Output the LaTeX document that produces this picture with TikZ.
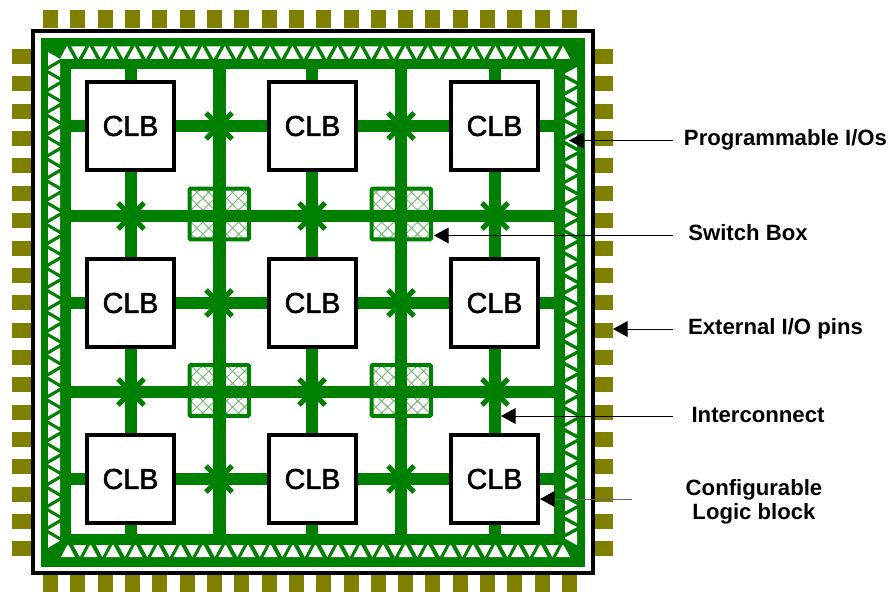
\documentclass[tikz,border=0pt]{standalone}
\usepackage{fontspec}
\setmainfont{Liberation Sans}
\newfontface\clbface{Liberation Sans}[FakeBold=1.8]
\usepackage{xcolor}
\definecolor{colWire}{HTML}{008000}
\definecolor{colPin}{HTML}{808000}
\usepackage{tikz}
\usetikzlibrary{arrows.meta, patterns.meta}
\tikzset{
    pin/.style={fill=colPin},
    wire/.style={draw=colWire, line width=10.6pt},
    ringwire/.style={draw=colWire, line width=9pt},
    cutout/.style={fill=white},
    xcross/.style={draw=colWire, line width=4.5pt},
    clb/.style={draw=black, fill=white, line width=3.2pt, minimum size=74.5pt, inner sep=0pt, font=\clbface\fontsize{24.5}{28}\selectfont},
    switchbox/.style={draw=colWire, line width=3.4pt, rounded corners=1pt, minimum width=50.8pt, minimum height=43.5pt, inner sep=0pt,
        pattern={Hatch[angle=45, distance=7.2pt, line width=0.8pt]}, pattern color=colWire!55!white},
    lbl/.style={font=\bfseries\fontsize{18.9}{20.5}\selectfont, align=center, inner sep=0pt},
    pointer/.style={draw=black, line width=0.85pt, -{Triangle[length=12.5pt, width=13.5pt, black]}}
}
\begin{document}
\begin{tikzpicture}[x=0.03cm, y=-0.03cm]
        \useasboundingbox (0,0) rectangle (889,592);
        % External pins
        \foreach \k in {0,...,19} {
            \fill[pin] (43+27.32*\k,10) rectangle (58+27.32*\k,28);
            \fill[pin] (43+27.32*\k,575) rectangle (58+27.32*\k,592);
        }
        \foreach \k in {0,...,18} {
            \fill[pin] (12,49+27.36*\k) rectangle (31,64+27.36*\k);
            \fill[pin] (595,49+27.36*\k) rectangle (613,64+27.36*\k);
        }
        % Chip frame
        \draw[black, line width=3.6pt, fill=white] (33,31) rectangle (593,573);
        % I/O ring
        \fill[colWire] (41,38) rectangle (585,567);
        \foreach \k in {0,...,22} {
            \fill[cutout] (67+22.55*\k-7,59) -- (67+22.55*\k,46) -- (67+22.55*\k+7,59) -- cycle;
            \fill[cutout] (563-22.5*\k-7,557) -- (563-22.5*\k,544) -- (563-22.5*\k+7,557) -- cycle;
            \fill[cutout] (48,59+21.9*\k-7) -- (60,59+21.9*\k) -- (48,59+21.9*\k+7) -- cycle;
        }
        \foreach \k in {0,...,21} {
            \fill[cutout] (78.3+22.55*\k-7,46.5) -- (78.3+22.55*\k,59) -- (78.3+22.55*\k+7,46.5) -- cycle;
            \fill[cutout] (552.3-22.5*\k-7,544) -- (552.3-22.5*\k,557) -- (552.3-22.5*\k+7,544) -- cycle;
            \fill[cutout] (60,70+21.9*\k-7) -- (48,70+21.9*\k) -- (60,70+21.9*\k+7) -- cycle;
            \fill[cutout] (577,74+22.1*\k-7) -- (564,74+22.1*\k) -- (577,74+22.1*\k+7) -- cycle;
        }
        \foreach \k in {1,...,21} {
            \fill[cutout] (564,63+22.1*\k-7) -- (577,63+22.1*\k) -- (564,63+22.1*\k+7) -- cycle;
        }
        % Inner routing ring
        \draw[ringwire, fill=white] (66,64) rectangle (559.5,539.5);
        % Switch boxes
        \foreach \name/\x/\y in {swA/219.3/214,swB/401.3/214,swC/219.3/390.5,swD/401.3/390.5} {
            \node[switchbox] (\name) at (\x,\y) {};
        }
        % Interconnect
        \foreach \name/\x in {a/131,b/219.5,c/312,d/401,e/495} {
            \coordinate (top\name) at (\x,64);
            \coordinate (bot\name) at (\x,540);
            \draw[wire] (top\name) -- (bot\name);
        }
        \foreach \name/\y in {p/126,q/216,r/303,s/392,t/479} {
            \coordinate (lft\name) at (66,\y);
            \coordinate (rgt\name) at (559.5,\y);
            \draw[wire] (lft\name) -- (rgt\name);
        }
        % Switches
        \foreach \x/\y in {219/126,401/126,131/216,312/216,495/216,219/303,401/303,131/392,312/392,495/392,219/479,401/479} {
            \draw[xcross] (\x-13,\y-13) -- (\x+13,\y+13);
            \draw[xcross] (\x-13,\y+13) -- (\x+13,\y-13);
        }
        % Logic blocks
        \foreach \name/\x/\y in {clbA/130.5/126,clbB/312.5/126,clbC/494.5/126,clbD/130.5/303,clbE/312.5/303,clbF/494.5/303,clbG/130.5/479,clbH/312.5/479,clbI/494.5/479} {
            \node[clb] (\name) at (\x,\y) {CLB};
        }
        % Labels
        \node[lbl] (lblIO) at (785.5,139.5) {Programmable I/Os};
        \node[lbl] (lblSwitch) at (748,233) {Switch Box};
        \node[lbl] (lblPins) at (775.5,329) {External I/O pins};
        \node[lbl] (lblWire) at (758,415) {Interconnect};
        \node[lbl] (lblLogic) at (754,502) {Configurable\\Logic block};
        % Arrows
        \coordinate (tailIO) at (673,140.5);
        \coordinate (tipIO) at (569,140.5);
        \coordinate (tailSwitch) at (673,235.5);
        \coordinate (tipSwitch) at (434,235.5);
        \coordinate (tailPins) at (673,329);
        \coordinate (tipPins) at (613,329);
        \coordinate (tailWire) at (673,416);
        \coordinate (tipWire) at (501,416);
        \coordinate (tailLogic) at (632,499);
        \coordinate (tipLogic) at (540,499);
        \draw[pointer] (tailIO) -- (tipIO);
        \draw[pointer] (tailSwitch) -- (tipSwitch);
        \draw[pointer] (tailPins) -- (tipPins);
        \draw[pointer] (tailWire) -- (tipWire);
        \draw[pointer, draw=black!60] (tailLogic) -- (tipLogic);
    \end{tikzpicture}
\end{document}
